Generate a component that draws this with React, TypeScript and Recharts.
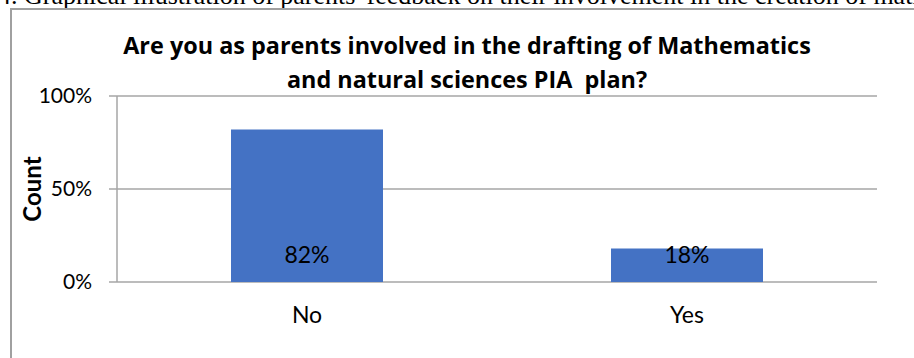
import { BarChart, Bar, XAxis, YAxis, CartesianGrid, LabelList } from 'recharts';

const answers = ['No', 'Yes'];
const shares = [0.82, 0.18];
const yTicks = [0, 0.5, 1];
const edgeTicks = [0, 1, 2];

const data = answers.map((answer, i) => ({ answer, share: shares[i] }));

const FONT = 'Lato, "Open Sans", sans-serif';
const GRID = '#a6a6a6';
const pct = (v: number) => `${Math.round(v * 100)}%`;

function CountLabel({ viewBox }: any) {
  const cx = viewBox.x + 31;
  const cy = viewBox.y + viewBox.height / 2;
  return (
    <text
      x={cx}
      y={cy}
      transform={`rotate(-90 ${cx} ${cy})`}
      textAnchor="middle"
      dominantBaseline="central"
      fontFamily={FONT}
      fontWeight={700}
      fontSize={24}
      fill="#000"
    >
      Count
    </text>
  );
}

export default function App() {
  return (
    <div style={{ position: 'absolute', left: 0, top: 0, width: 914, height: 358, overflow: 'hidden', background: '#fff' }}>
      <div
        style={{
          position: 'absolute',
          left: -2,
          top: -17,
          whiteSpace: 'nowrap',
          fontFamily: '"Liberation Serif", serif',
          fontSize: 26,
          lineHeight: 1,
        }}
      >
        4. Graphical illustration of parents' feedback on their involvement in the creation of mathematics and natural sciences PIA plan
      </div>
      <div
        style={{
          position: 'absolute',
          left: 10,
          top: 8,
          width: 940,
          height: 400,
          borderLeft: '2px solid #a0a0a0',
          borderTop: '2px solid #a0a0a0',
        }}
      />
      <div
        style={{
          position: 'absolute',
          left: 0,
          top: 28,
          width: 934,
          textAlign: 'center',
          fontFamily: '"Open Sans", Lato, sans-serif',
          fontWeight: 700,
          fontSize: 23.4,
          lineHeight: '34px',
        }}
      >
        Are you as parents involved in the drafting of Mathematics
        <br />
        and natural sciences PIA&nbsp; plan?
      </div>
      <div style={{ position: 'absolute', left: 0, top: 0 }}>
        <BarChart
          width={914}
          height={358}
          data={data}
          margin={{ top: 96, right: 37, bottom: 0, left: 0 }}
          barCategoryGap="30%"
        >
          <CartesianGrid vertical={false} stroke={GRID} strokeWidth={1.5} />
          <XAxis
            xAxisId="edge"
            type="number"
            domain={[0, 2]}
            ticks={edgeTicks}
            tick={false}
            tickSize={8}
            height={0}
            axisLine={{ stroke: GRID, strokeWidth: 1.5 }}
            tickLine={{ stroke: GRID, strokeWidth: 1.5 }}
          />
          <XAxis
            dataKey="answer"
            height={76}
            axisLine={false}
            tickLine={false}
            tickSize={8}
            tickMargin={17}
            tick={{ fill: '#000', fontSize: 23, fontFamily: FONT }}
          />
          <YAxis
            width={117}
            domain={[0, 1]}
            ticks={yTicks}
            tickFormatter={pct}
            tickSize={8}
            tickMargin={17}
            axisLine={{ stroke: GRID, strokeWidth: 1.5 }}
            tickLine={{ stroke: GRID, strokeWidth: 1.5 }}
            tick={{ fill: '#000', fontSize: 21, fontFamily: FONT }}
            label={<CountLabel />}
          />
          <Bar dataKey="share" fill="#4472c4" isAnimationActive={false}>
            <LabelList
              dataKey="share"
              position="insideBottom"
              offset={19}
              formatter={(v: any) => pct(Number(v))}
              style={{ fill: '#000', fontSize: 23, fontFamily: FONT }}
            />
          </Bar>
        </BarChart>
      </div>
    </div>
  );
}
